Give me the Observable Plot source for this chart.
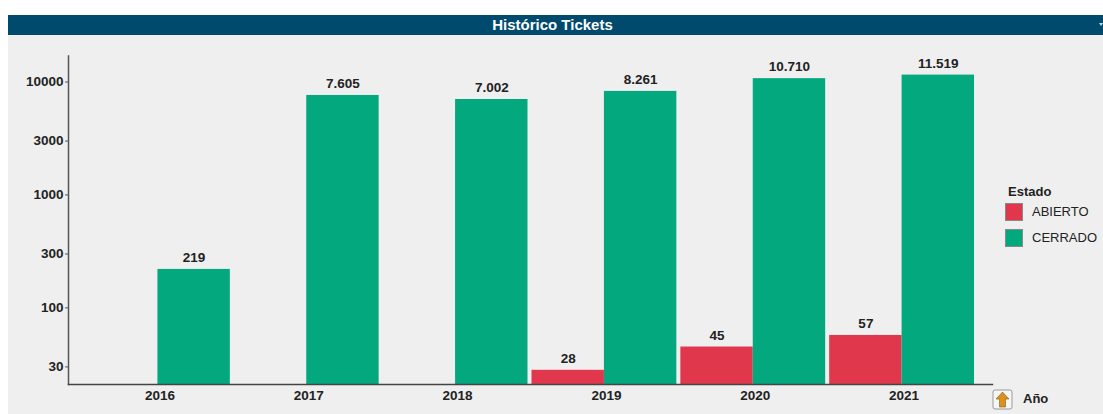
<!DOCTYPE html>
<html>
<head>
<meta charset="utf-8">
<script src="https://cdn.jsdelivr.net/npm/d3@7"></script>
<script src="https://cdn.jsdelivr.net/npm/@observablehq/plot@0.6"></script>
<style>
html,body{margin:0;padding:0;background:#fff;width:1103px;height:414px;overflow:hidden;font-family:"Liberation Sans",Arial,sans-serif}
#panel{position:absolute;left:8px;top:15px;width:1095px;height:399px;background:#efefef}
#head{position:absolute;left:0;top:0;width:100%;height:20px;background:#004a6e;color:#fff;font-weight:bold;font-size:15px;line-height:20px;text-align:center;padding-right:6px;box-sizing:border-box}
#mark{position:absolute;right:0;top:8px;width:0;height:0;border-left:2px solid transparent;border-right:2px solid transparent;border-top:3px solid #cfd8de}
.layer{position:absolute;left:0;top:0}
.layer svg{background:transparent;display:block}
#legend{position:absolute;left:1008px;top:185px;font-size:13px;color:#222}
#legend .t{font-weight:bold;height:14px;line-height:14px}
#legend .r{position:absolute;left:-3px;white-space:nowrap;line-height:18px;height:18px}
#legend .s{position:absolute;left:0;top:0;width:16px;height:16px;border:1px solid #888}
#legend .l{position:absolute;left:27px;top:0}
#ano{position:absolute;left:1023px;top:391px;font-weight:bold;font-size:13px;color:#222}
#icon{position:absolute;left:992px;top:389px}
</style>
</head>
<body>
<div id="panel"><div id="head">Histórico Tickets<div id="mark"></div></div></div>
<div id="chart" class="layer"></div>
<div id="axes" class="layer"></div>
<div id="legend"></div>
<svg id="icon" width="21" height="21" viewBox="0 0 21 21">
  <rect x="1" y="1" width="19" height="19" rx="2" fill="#f6f6f6" stroke="#999"/>
  <path d="M10.5 3 L17 10 H13.5 V18 H7.5 V10 H4 Z" fill="#d9921c" stroke="#8a5a10" stroke-width=".6"/>
</svg>
<div id="ano">Año</div>
<script>
const years = ["2016", "2017", "2018", "2019", "2020", "2021"];
const estados = ["ABIERTO", "CERRADO"];
const abierto = [null, null, null, 28, 45, 57];
const cerrado = [219, 7605, 7002, 8261, 10710, 11519];
const colors = ["#e0374c", "#03a87e"];
const yTicks = [30, 100, 300, 1000, 3000, 10000];

const rows = [];
years.forEach((year, i) => {
  if (abierto[i] != null) rows.push({year, estado: estados[0], value: abierto[i]});
  if (cerrado[i] != null) rows.push({year, estado: estados[1], value: cerrado[i]});
});
const fmt = v => d3.format(",")(v).replace(/,/g, ".");
const baseValue = 20.96;
const fontFamily = "'Liberation Sans', Arial, sans-serif";
const frameOptions = {
  width: 1103, height: 414,
  marginTop: 55.5, marginBottom: 30, marginLeft: 68, marginRight: 111,
  style: {background: "transparent", fontFamily, fontSize: "13.5px"}
};
const yScale = {type: "log", domain: [baseValue, 17000], label: null};

const chart = Plot.plot({
  ...frameOptions,
  fx: {domain: years, range: [85, 974], padding: 0.027, round: false, label: null},
  x: {domain: estados, padding: 0, round: false, axis: null},
  y: {...yScale, axis: null},
  color: {domain: estados, range: colors},
  marks: [
    Plot.barY(rows, {fx: "year", x: "estado", y1: baseValue, y2: "value", fill: "estado"}),
    Plot.text(rows, {fx: "year", x: "estado", y: "value", text: d => fmt(d.value), dy: -11.5,
      fontWeight: "bold", fontSize: 13.5, fill: "#222"}),
    Plot.axisFx({anchor: "bottom", tickSize: 0, tickPadding: 6, label: null, dx: 2,
      fontWeight: "bold", fontSize: 13.5, fill: "#222"})
  ]
});
document.getElementById("chart").appendChild(chart);

const axes = Plot.plot({
  ...frameOptions,
  y: yScale,
  marks: [
    Plot.frame({anchor: "left", stroke: "#555", strokeWidth: 1.5, strokeOpacity: 1}),
    Plot.frame({anchor: "bottom", stroke: "#444", strokeWidth: 1.5, strokeOpacity: 1}),
    Plot.axisY({ticks: yTicks, tickFormat: d => String(d), tickSize: 3, tickPadding: 2, label: null,
      fontWeight: "bold", fontSize: 13.5, fill: "#222", stroke: "#555"})
  ]
});
document.getElementById("axes").appendChild(axes);

const legend = document.getElementById("legend");
legend.innerHTML = '<div class="t">Estado</div>' + estados.map((e, i) =>
  `<div class="r" style="top:${18 + i * 26}px"><span class="s" style="background:${colors[i]}"></span><span class="l">${e}</span></div>`
).join("");
</script>
</body>
</html>
